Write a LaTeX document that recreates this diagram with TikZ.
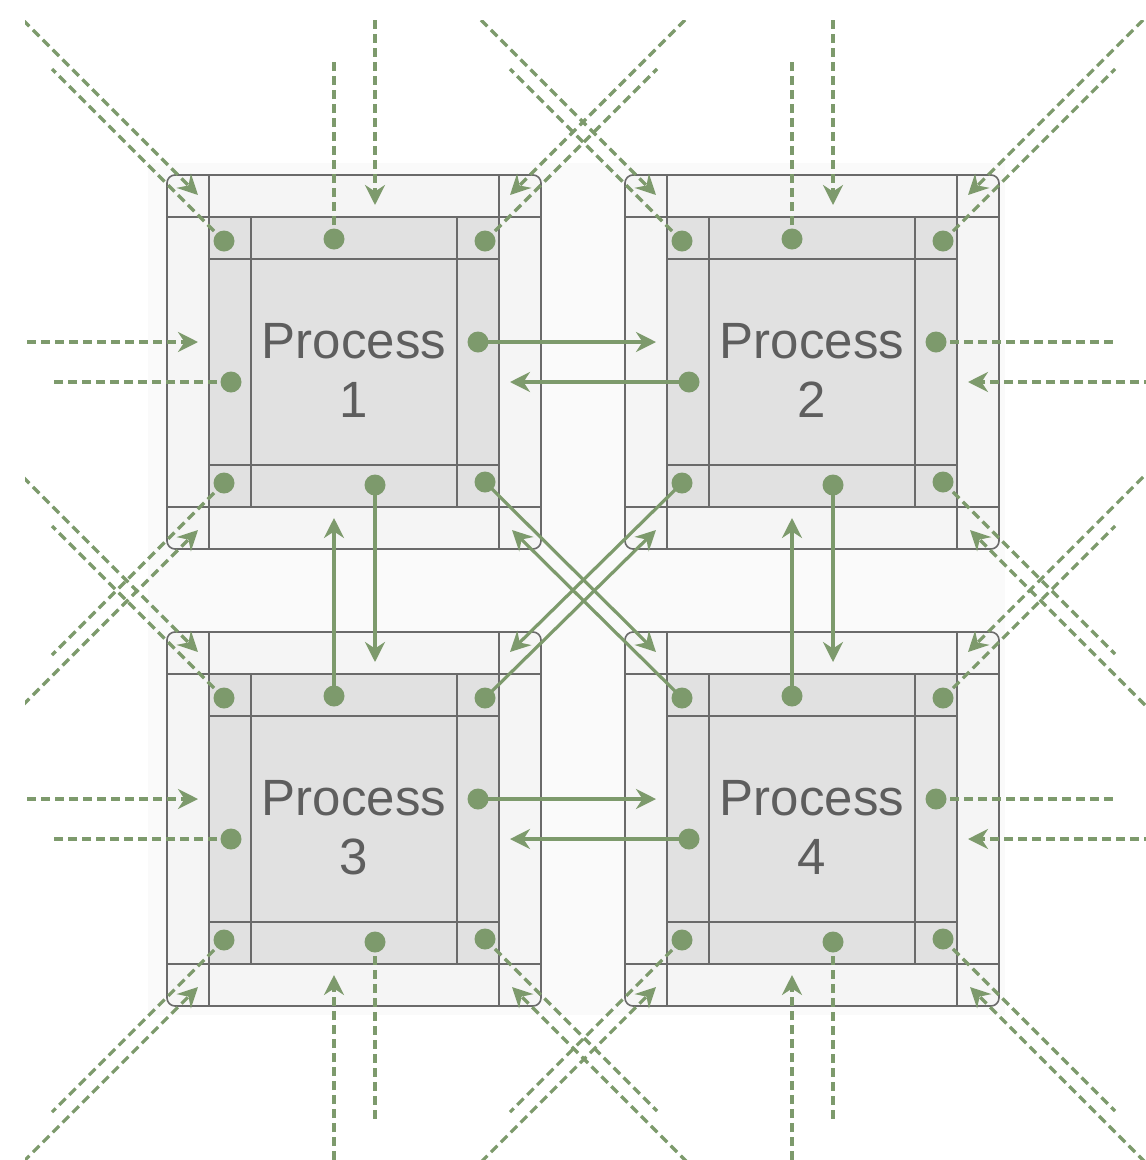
\documentclass[tikz,border=0pt]{standalone}
\usepackage{fontspec}
\setmainfont{Liberation Sans}
\usetikzlibrary{arrows.meta}
\definecolor{grn}{HTML}{7D9A6C}
\definecolor{boxline}{HTML}{6A6A6A}
\definecolor{outerfill}{HTML}{F5F5F5}
\definecolor{innerfill}{HTML}{E1E1E1}
\definecolor{bgfill}{HTML}{FAFAFA}
\definecolor{txt}{HTML}{5E5E5E}
\begin{document}
\begin{tikzpicture}[x=1pt,y=-1pt,
  gridline/.style={draw=boxline,line width=1.6pt},
  dot/.style={circle,fill=grn,inner sep=0pt,minimum size=21pt},
  link/.style={draw=grn,line width=3.2pt},
  extlink/.style={link,dash pattern=on 9pt off 5pt},
  tip/.style={-{Stealth[length=20pt,width=20pt,inset=6.5pt]}},
  proclabel/.style={text=txt,font=\fontsize{51}{59}\selectfont,anchor=base,inner sep=0pt}
]
\useasboundingbox (0,0) rectangle (1146,1160);
\fill[bgfill] (148,163) rectangle (1005,1015);
\foreach \p/\ox/\oy in {1/167/175,2/625/175,3/167/632,4/625/632}{
  \begin{scope}[shift={(\ox,\oy)}]
    \fill[outerfill,rounded corners=8pt] (0,0) rectangle (374,374);
    \fill[innerfill] (42,42) rectangle (332,332);
    \draw[gridline] (42,0) -- (42,374) (332,0) -- (332,374) (0,42) -- (374,42) (0,332) -- (374,332);
    \draw[gridline] (84,42) -- (84,332) (290,42) -- (290,332) (42,84) -- (332,84) (42,290) -- (332,290);
    \draw[gridline,rounded corners=8pt] (0,0) rectangle (374,374);
    \node[proclabel] (p\p-name) at (187,183) {Process};
    \node[proclabel] (p\p-num) at (187,242) {\p};
  \end{scope}
  \foreach \s/\dx/\dy/\ix/\iy/\ux/\uy/\lo/\li in {
     T/167/64/208/30/0/-1/179/185,
     R/311/167/343/207/1/0/179/185,
     B/208/310/167/343/0/1/179/185,
     L/64/207/31/167/-1/0/179/185,
     TL/57/66/31/20/-1/-1/172/175,
     TR/318/66/343/20/1/-1/172/175,
     BR/318/307/345/355/1/1/172/175,
     BL/57/308/31/355/-1/1/172/175}{
    \node[dot] (p\p-\s) at ({\ox+\dx},{\oy+\dy}) {};
    \coordinate (p\p-\s-out) at ({\ox+\dx+\ux*\lo},{\oy+\dy+\uy*\lo});
    \coordinate (p\p-\s-in) at ({\ox+\ix},{\oy+\iy});
    \coordinate (p\p-\s-src) at ({\ox+\ix+\ux*\li},{\oy+\iy+\uy*\li});
  }
}
\begin{scope}
  \clip (25,20) rectangle (1146,1160);
  \foreach \p/\s in {1/T,1/L,1/TL,1/TR,1/BL,2/T,2/R,2/TL,2/TR,2/BR,3/L,3/B,3/TL,3/BL,3/BR,4/R,4/B,4/TR,4/BR,4/BL}{
    \draw[extlink] (p\p-\s.center) -- (p\p-\s-out);
    \draw[extlink,tip] (p\p-\s-src) -- (p\p-\s-in);
  }
\end{scope}
\foreach \a/\b in {p1-R/p2-L,p2-L/p1-R,p1-B/p3-T,p3-T/p1-B,p1-BR/p4-TL,p4-TL/p1-BR,p2-BL/p3-TR,p3-TR/p2-BL,p2-B/p4-T,p4-T/p2-B,p3-R/p4-L,p4-L/p3-R}
  \draw[link,tip] (\a.center) -- (\b-in);
\end{tikzpicture}
\end{document}
